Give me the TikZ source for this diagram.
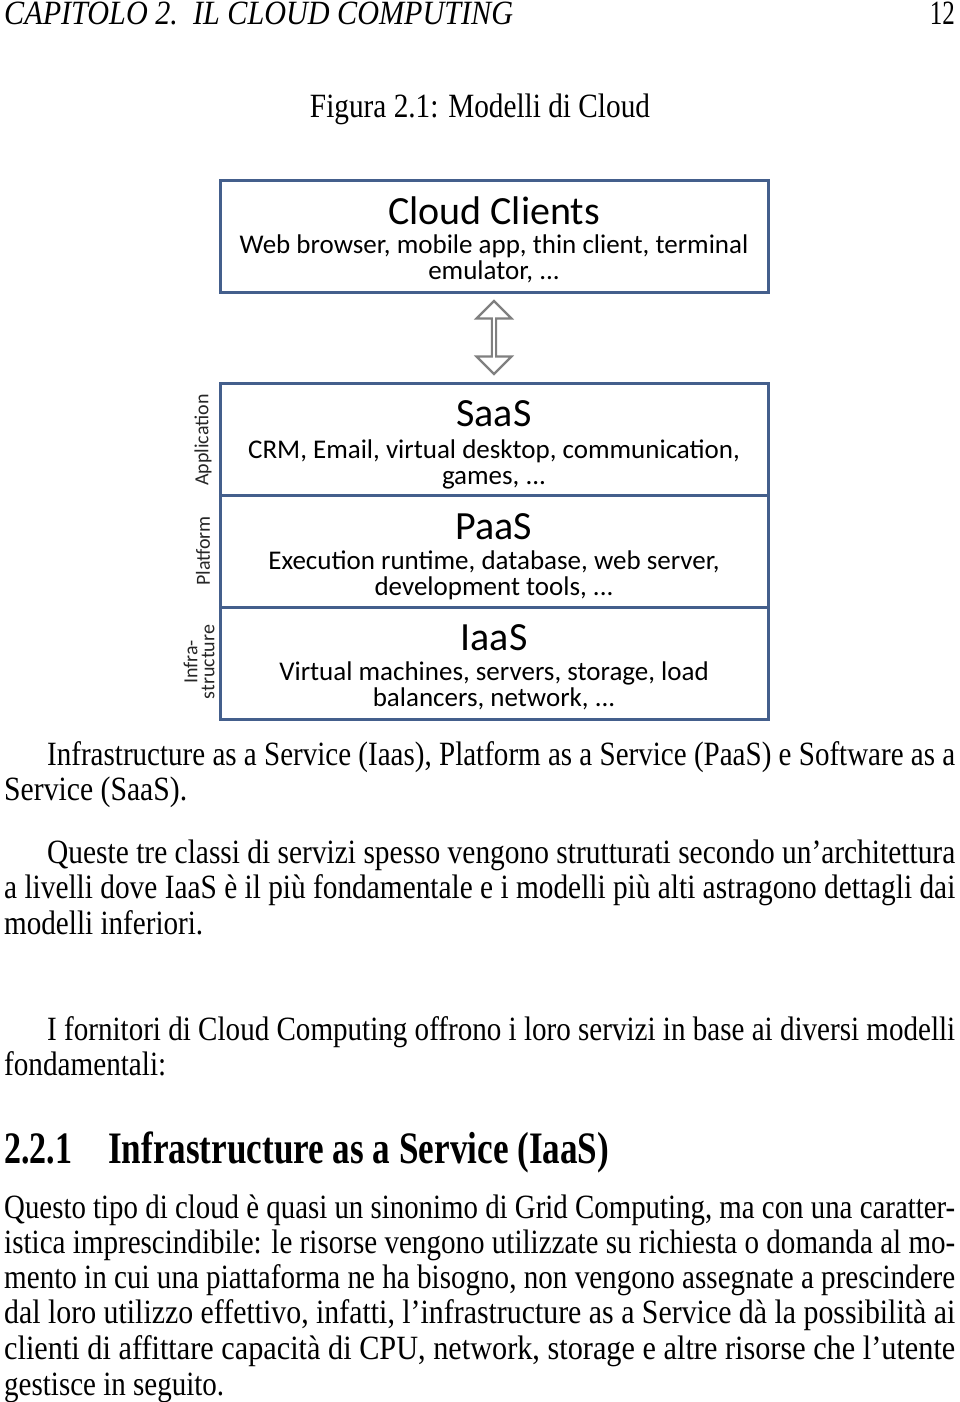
\documentclass[tikz,border=0pt]{standalone}
\usepackage{fontspec}
\setmainfont{Liberation Serif}
\newfontfamily\carl{Carlito}
\usepackage{graphicx}
\usetikzlibrary{shapes.arrows,calc}
\definecolor{boxblue}{RGB}{68,95,140}
\definecolor{arrgray}{RGB}{128,128,128}
\newcommand\jl[2]{\resizebox{#1pt}{\height}{#2}}
\begin{document}
\begin{tikzpicture}[x=1pt,y=-1pt,
  body/.style={anchor=base west, inner sep=0, font=\fontsize{34}{36}\selectfont},
  layer/.style={draw=boxblue, line width=3pt, minimum width=548pt, minimum height=112pt, inner sep=0},
  ttl/.style={anchor=base, inner sep=0, font=\carl\fontsize{40}{44}\selectfont},
  sub/.style={anchor=base, inner sep=0, align=center, font=\carl\fontsize{27}{26}\selectfont},
  side/.style={rotate=90, inner sep=0, align=center, font=\carl\fontsize{20}{17}\selectfont, text=black!85},
  dblarrow/.style={double arrow, draw=arrgray, fill=white, line width=2.2pt, rotate=90,
     minimum height=73pt, minimum width=35pt, double arrow head extend=8pt, inner sep=0}
]
\useasboundingbox[fill=white] (0,0) rectangle (960,1402);

% header
\node[body, font=\itshape\fontsize{34}{36}\selectfont] (hdr) at (4,25) {\jl{509}{CAPITOLO 2.\ \ IL CLOUD COMPUTING}};
\node[anchor=base east, inner sep=0, font=\fontsize{34}{36}\selectfont] (pg) at (955,25) {\jl{25}{12}};
\node[anchor=base, inner sep=0, font=\fontsize{34}{36}\selectfont] (cap) at (480,118) {\jl{340}{Figura 2.1: Modelli di Cloud}};

% diagram boxes
\node[layer] (cc) at (494,236) {};
\node[layer] (saas) at (494,439) {};
\node[layer] (paas) at (494,551) {};
\node[layer] (iaas) at (494,663) {};

\node[ttl] (cct) at (494,224) {Cloud Clients};
\node[sub] (ccs) at (494,279) {Web browser, mobile app, thin client, terminal\\emulator, ...};
\node[ttl] (saast) at (494,426) {SaaS};
\node[sub] (saass) at (494,484) {CRM, Email, virtual desktop, communication,\\games, ...};
\node[ttl] (paast) at (494,539) {PaaS};
\node[sub] (paass) at (494,595) {Execution runtime, database, web server,\\development tools, ...};
\node[ttl] (iaast) at (494,650) {IaaS};
\node[sub] (iaass) at (494,706) {Virtual machines, servers, storage, load\\balancers, network, ...};

\node[side] (app) at (203,440) {Application};
\node[side] (plat) at (203,551) {Platform};
\node[side] (infra) at (199,662) {Infra-\\structure};

\node[dblarrow] (arr) at ($(cc.south)!0.5!(saas.north)$) {};

% body text
\node[body] (l1) at (47,765) {\jl{908}{Infrastructure as a Service (Iaas), Platform as a Service (PaaS) e Software as a}};
\node[body] (l2) at (4,800) {\jl{183}{Service (SaaS).}};
\node[body] (l3) at (47,863) {\jl{908}{Queste tre classi di servizi spesso vengono strutturati secondo un’architettura}};
\node[body] (l4) at (4,898) {\jl{951}{a livelli dove IaaS è il più fondamentale e i modelli più alti astragono dettagli dai}};
\node[body] (l5) at (4,934) {\jl{199}{modelli inferiori.}};
\node[body] (l6) at (47,1040) {\jl{908}{I fornitori di Cloud Computing offrono i loro servizi in base ai diversi modelli}};
\node[body] (l7) at (4,1075) {\jl{162}{fondamentali:}};

\node[body, font=\bfseries\fontsize{45}{48}\selectfont] (secn) at (4,1163) {\jl{68}{2.2.1}};
\node[body, font=\bfseries\fontsize{45}{48}\selectfont] (sect) at (108,1163) {\jl{501}{Infrastructure as a Service (IaaS)}};

\node[body] (p1) at (4,1218) {\jl{951}{Questo tipo di cloud è quasi un sinonimo di Grid Computing, ma con una caratter-}};
\node[body] (p2) at (4,1253) {\jl{951}{istica imprescindibile: le risorse vengono utilizzate su richiesta o domanda al mo-}};
\node[body] (p3) at (4,1288) {\jl{951}{mento in cui una piattaforma ne ha bisogno, non vengono assegnate a prescindere}};
\node[body] (p4) at (4,1323) {\jl{951}{dal loro utilizzo effettivo, infatti, l’infrastructure as a Service dà la possibilità ai}};
\node[body] (p5) at (4,1359) {\jl{951}{clienti di affittare capacità di CPU, network, storage e altre risorse che l’utente}};
\node[body] (p6) at (4,1395) {\jl{220}{gestisce in seguito.}};
\end{tikzpicture}
\end{document}
